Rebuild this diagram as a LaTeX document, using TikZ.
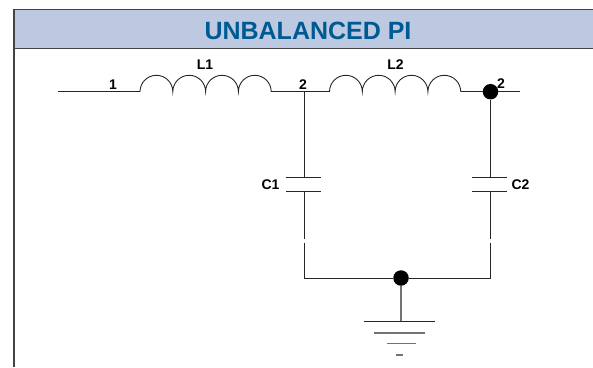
\documentclass[tikz,border=0pt]{standalone}
\usepackage{fontspec}
\setmainfont{Liberation Sans}
\usepackage{tikz}
\definecolor{headbg}{HTML}{bdc9e1}
\definecolor{headblue}{HTML}{005a92}
\definecolor{framegray}{HTML}{444444}

\begin{document}
\begin{tikzpicture}[x=1pt, y=-1pt,
every node/.style = {inner sep=0pt, font=\bfseries\fontsize{14}{15}\selectfont, text=black},
wire/.style = {line width=0.9pt, draw=black!85},
stem/.style = {line width=1.3pt, draw=black!55},
dot/.style = {shape=circle, fill=black, minimum size=15.5pt},
frameline/.style = {line width=1.5pt, draw=framegray},
title/.style = {font=\bfseries\fontsize{25}{28}\selectfont, text=headblue}
]
\useasboundingbox (0,0) rectangle (593,367);

% header band
\fill [headbg] (14,9.5) rectangle (593,48.5);
\draw [frameline] (14,367) -- (14,9.5) -- (593,9.5);
\draw [frameline] (14,48.5) -- (593,48.5);
\node (head) [title] at (308,30.5) {UNBALANCED PI};

% top rail
\coordinate (in) at (58,91.7);
\coordinate (l1a) at (140,91.7);
\coordinate (l1b) at (271,91.7);
\coordinate (mid) at (304.5,91.7);
\coordinate (l2a) at (329.5,91.7);
\coordinate (l2b) at (461,91.7);
\node (out) [dot] at (490.5,91.7) {};
\coordinate (end) at (520,91.7);
\draw [wire] (in) -- (l1a);
\draw [wire] (l1b) -- (mid) -- (l2a);
\draw [wire] (l2b) -- (out) -- (end);
\draw [wire] (l1a) \foreach \i in {1,...,4} {arc [start angle=180, end angle=360, radius=16.4]};
\draw [wire] (l2a) \foreach \i in {1,...,4} {arc [start angle=180, end angle=360, radius=16.4]};

% capacitors
\coordinate (c1t) at (304.5,177.5);
\coordinate (c1b) at (304.5,191.7);
\coordinate (c2t) at (490.5,177.5);
\coordinate (c2b) at (490.5,191.7);
\draw [wire] (mid) -- (c1t);
\draw [wire] (out) -- (c2t);
\draw [wire] ([xshift=-18.8pt]c1t) -- ([xshift=16.5pt]c1t);
\draw [wire] ([xshift=-18.8pt]c1b) -- ([xshift=16.5pt]c1b);
\draw [wire] ([xshift=-18.8pt]c2t) -- ([xshift=16.5pt]c2t);
\draw [wire] ([xshift=-18.8pt]c2b) -- ([xshift=16.5pt]c2b);

% return path
\coordinate (c1s) at (304.5,239);
\coordinate (c1r) at (304.5,242.7);
\coordinate (c2s) at (490.5,239);
\coordinate (c2r) at (490.5,242.7);
\node (gnd) [dot] at (401,278) {};
\draw [wire] (c1b) -- (c1s);
\draw [wire] (c2b) -- (c2s);
\draw [wire] (c1r) |- (gnd);
\draw [wire] (c2r) |- (gnd);

% ground symbol
\coordinate (g1) at (401,321.7);
\draw [stem] (gnd) -- (g1);
\draw [wire] (363.7,321.7) -- (435,321.7);
\draw [stem] (374,333) -- (425,333);
\draw [stem] (386.5,343.7) -- (415.5,343.7);
\draw [stem] (396,355) -- (403,355);

\node (lone) at (113,85) {1};
\node (ltwo) at (303,85) {2};
\node (lthree) at (501,84) {2};
\node (lL1) at (205,64.5) {L1};
\node (lL2) at (395.5,64.5) {L2};
\node (lC1) at (270.5,184.5) {C1};
\node (lC2) at (520.5,184.5) {C2};
\end{tikzpicture}
\end{document}
